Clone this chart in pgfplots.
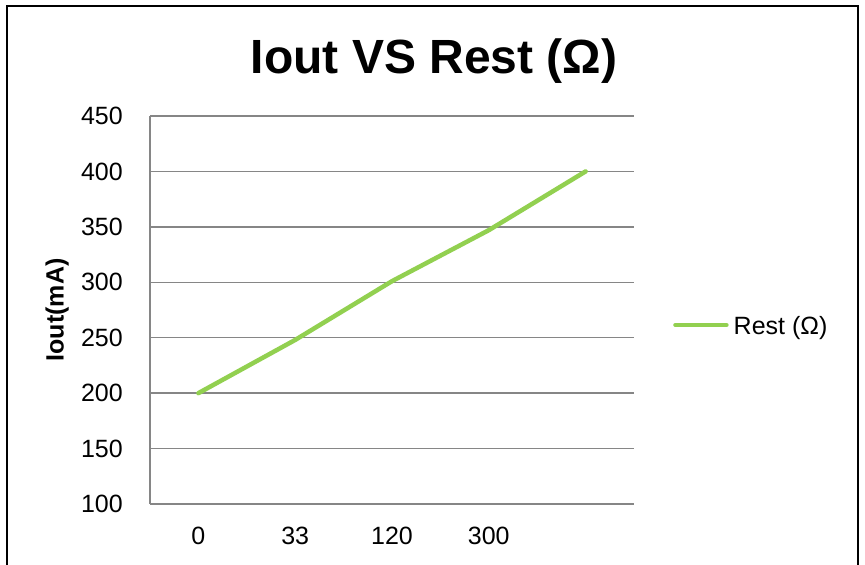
\documentclass[border=0pt]{standalone}
\usepackage{fontspec}
\setmainfont{Liberation Sans}
\usepackage{pgfplots}
\pgfplotsset{compat=1.18}
\definecolor{lgreen}{RGB}{146,208,80}
\definecolor{gridgray}{RGB}{134,134,134}
\begin{document}
\begin{tikzpicture}[x=1pt,y=1pt]
\useasboundingbox (0,0) rectangle (865,565);
\draw[line width=2pt] (7,-3) -- (7,559) -- (858,559) -- (858,-3);
\node[font=\fontsize{48}{56}\selectfont\bfseries, anchor=base, inner sep=0pt] at (434,491) {Iout VS Rest (Ω)};
\begin{axis}[
  at={(150pt,61pt)}, anchor=south west,
  scale only axis, width=484pt, height=388pt,
  xmin=-0.5, xmax=4.5, ymin=100, ymax=450,
  ytick={100,150,...,450},
  xtick={0,1,2,3,4}, xticklabels={0,33,120,300,{}},
  axis lines*=left,
  axis line style={gridgray, line width=1.5pt},
  ymajorgrids, grid style={gridgray, line width=1.5pt},
  major tick length=0pt,
  /pgf/number format/assume math mode=true,
  ticklabel style={font=\fontsize{25}{30}\selectfont},
  yticklabel style={anchor=east, inner sep=0pt, xshift=-27pt},
  xticklabel style={anchor=north, inner sep=0pt, yshift=-23pt},
  ylabel={Iout(mA)},
  ylabel style={font=\fontsize{25}{30}\selectfont\bfseries, at={(axis description cs:-0.192,0.5)}, anchor=center},
  clip=false,
  legend style={at={(axis description cs:1.0806,0.4588)}, anchor=west, draw=none, fill=none, inner sep=0pt,
    font=\fontsize{25}{30}\selectfont, nodes={inner sep=0pt}, column sep=5pt},
  legend image code/.code={\draw[#1] (2pt,1pt) -- (53pt,1pt);},
]
\addplot[color=lgreen, line width=4.5pt, line cap=round, line join=round, mark=none] coordinates {
  (0,200) (1,248) (2,301) (3,347) (4,400)
};
\addlegendentry{Rest (Ω)}
\end{axis}
\end{tikzpicture}
\end{document}
